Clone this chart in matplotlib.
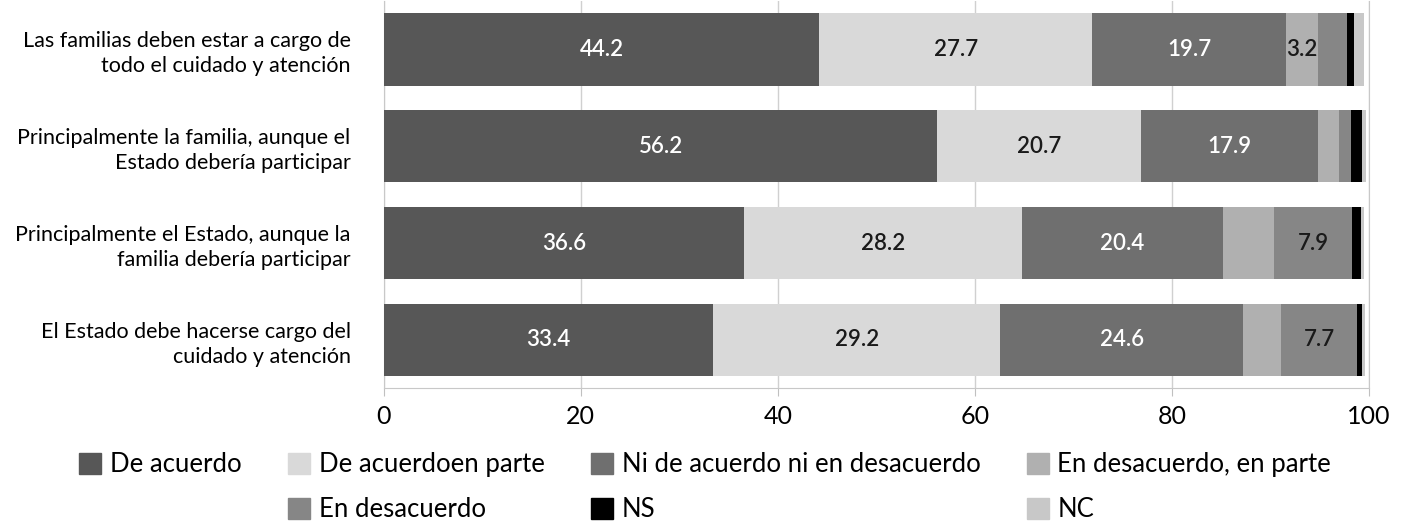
import matplotlib.pyplot as plt
import numpy as np
from matplotlib.patches import Patch

# categories, top to bottom
categories = [
    "Las familias deben estar a cargo de\ntodo el cuidado y atención",
    "Principalmente la familia, aunque el\nEstado debería participar",
    "Principalmente el Estado, aunque la\nfamilia debería participar",
    "El Estado debe hacerse cargo del\ncuidado y atención",
]
series_names = [
    "De acuerdo",
    "De acuerdoen parte",
    "Ni de acuerdo ni en desacuerdo",
    "En desacuerdo, en parte",
    "En desacuerdo",
    "NS",
    "NC",
]
de_acuerdo = [44.2, 56.2, 36.6, 33.4]
de_acuerdo_parte = [27.7, 20.7, 28.2, 29.2]
ni_ni = [19.7, 17.9, 20.4, 24.6]
desacuerdo_parte = [3.2, 2.2, 5.2, 3.9]
desacuerdo = [3.0, 1.2, 7.9, 7.7]
ns = [0.7, 1.1, 0.9, 0.5]
nc = [1.0, 0.4, 0.3, 0.3]

# which segments carry a printed value
shown = [
    [1, 1, 1, 1, 0, 0, 0],
    [1, 1, 1, 0, 0, 0, 0],
    [1, 1, 1, 0, 1, 0, 0],
    [1, 1, 1, 0, 1, 0, 0],
]

colors = ["#575757", "#d9d9d9", "#6f6f6f", "#b0b0b0", "#868686", "#000000", "#c8c8c8"]
text_colors = ["white", "#1a1a1a", "white", "#1a1a1a", "#1a1a1a", "white", "#1a1a1a"]

plt.rcParams['font.family'] = ['Lato', 'DejaVu Sans']

fig = plt.figure(figsize=(14.01, 5.22), dpi=100)
ax = fig.add_axes([0.274, 0.256, 0.703, 0.742])

series = [de_acuerdo, de_acuerdo_parte, ni_ni, desacuerdo_parte, desacuerdo, ns, nc]
y = np.arange(len(categories))
left = np.zeros(len(categories))
for k, vals in enumerate(series):
    vals = np.array(vals)
    ax.barh(y, vals, left=left, height=0.745, color=colors[k], zorder=3,
            label=series_names[k])
    for i in range(len(categories)):
        if shown[i][k]:
            ax.text(left[i] + vals[i] / 2, y[i], f"{vals[i]:.1f}", ha="center",
                    va="center", fontsize=16, fontweight="semibold",
                    color=text_colors[k], zorder=4)
    left += vals

ax.set_xlim(0, 100)
ax.set_ylim(len(categories) - 0.5, -0.5)
ax.set_yticks(y)
ax.set_yticklabels(categories, fontsize=15.5, linespacing=1.3)
ax.set_xticks(np.arange(0, 101, 20))
ax.tick_params(axis="y", length=0, pad=24)
ax.tick_params(axis="x", length=6, color="#c0c0c0", labelsize=18, pad=6)
for lab in ax.get_xticklabels():
    lab.set_family(['Liberation Sans Narrow', 'Lato'])
ax.grid(axis="x", color="#d0d0d0", lw=1, zorder=0)
ax.spines["top"].set_visible(False)
for s in ["left", "right", "bottom"]:
    ax.spines[s].set_color("#c8c8c8")

handles = [Patch(color=c) for c in colors]
blank = Patch(color="none")
order_h = [handles[0], blank, handles[1], handles[4], handles[2], handles[5], handles[3], handles[6]]
order_l = [series_names[0], "", series_names[1], series_names[4], series_names[2],
           series_names[5], series_names[3], series_names[6]]
fig.legend(order_h, order_l, ncol=4, loc="lower left", bbox_to_anchor=(0.04, -0.045),
           frameon=False, fontsize=18.5, handlelength=0.85, handleheight=0.85,
           handletextpad=0.35, columnspacing=1.8, labelspacing=0.78)

fig.savefig("out.png", dpi=100)
